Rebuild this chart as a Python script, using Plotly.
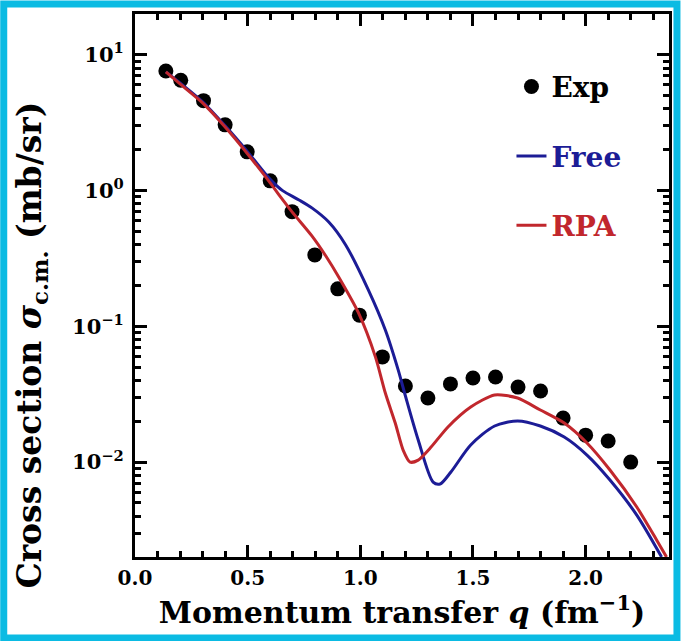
import numpy as np
import plotly.graph_objects as go

# Experimental data
exp_q = [0.137, 0.203, 0.304, 0.40, 0.498, 0.60, 0.697, 0.798, 0.90, 0.996, 1.098,
         1.20, 1.30, 1.40, 1.50, 1.60, 1.70, 1.80, 1.90, 2.00, 2.10, 2.20]
exp_sigma = [7.6, 6.5, 4.6, 3.05, 1.93, 1.18, 0.70, 0.336, 0.189, 0.121, 0.0596,
             0.0364, 0.0297, 0.0377, 0.0417, 0.0424, 0.0357, 0.0334, 0.0211, 0.0158, 0.0143, 0.0100]

# Free calculation
free_q = [0.137, 0.200, 0.300, 0.400, 0.500, 0.600, 0.655, 0.728, 0.785, 0.860, 0.935,
          1.036, 1.111, 1.168, 1.199, 1.257, 1.323, 1.354, 1.402, 1.490, 1.596, 1.698,
          1.799, 1.905, 2.006, 2.108, 2.227, 2.337]
free_sigma = [7.50, 6.22, 4.51, 3.00, 1.93, 1.21, 1.00, 0.853, 0.746, 0.587, 0.398,
              0.185, 0.094, 0.0478, 0.0312, 0.01456, 0.00713, 0.0069, 0.00845, 0.01337, 0.01845, 0.0201,
              0.01845, 0.0153, 0.01127, 0.00738, 0.00407, 0.0020]

# RPA calculation
rpa_q = [0.137, 0.200, 0.300, 0.400, 0.500, 0.600, 0.639, 0.697, 0.785, 0.847, 0.904,
         0.992, 1.067, 1.111, 1.155, 1.190, 1.221, 1.257, 1.314, 1.389, 1.490, 1.596,
         1.698, 1.799, 1.905, 2.006, 2.108, 2.227, 2.315, 2.359]
rpa_sigma = [7.50, 6.11, 4.43, 2.94, 1.86, 1.14, 0.929, 0.697, 0.464, 0.330, 0.231,
             0.1256, 0.0596, 0.0323, 0.0194, 0.01227, 0.0100, 0.01035, 0.0129, 0.01816, 0.02547, 0.0312,
             0.02965, 0.0242, 0.0194, 0.01384, 0.00875, 0.00467, 0.00267, 0.0020]

x_ticks = [0.0, 0.5, 1.0, 1.5, 2.0]
x_ticktext = ["0.0", "0.5", "1.0", "1.5", "2.0"]
y_ticks = [0.01, 0.1, 1, 10]
y_ticktext = ["10<sup>\u22122</sup>", "10<sup>\u22121</sup>", "10<sup>0</sup>", "10<sup>1</sup>"]

BLUE = "#1c1c96"
RED = "#c1272d"
FONT = "DejaVu Serif"

fig = go.Figure()
fig.add_trace(go.Scatter(
    x=exp_q, y=exp_sigma, mode="markers", name="Exp",
    marker=dict(color="black", size=15), legendgroup="a"))
fig.add_trace(go.Scatter(
    x=free_q, y=free_sigma, mode="lines", name="<span style='color:%s'>Free</span>" % BLUE,
    line=dict(color=BLUE, width=3, shape="spline", smoothing=0.8), legendgroup="b"))
fig.add_trace(go.Scatter(
    x=rpa_q, y=rpa_sigma, mode="lines", name="<span style='color:%s'>RPA</span>" % RED,
    line=dict(color=RED, width=3, shape="spline", smoothing=0.7), legendgroup="c"))

minor_y = [m * 10.0 ** e for e in range(-3, 2) for m in range(2, 10)]
minor_y = [v for v in minor_y if 0.002 <= v <= 20]

axis_common = dict(
    showline=True, linecolor="black", linewidth=3, mirror="allticks",
    ticks="inside", ticklen=12, tickwidth=2.5, tickcolor="black",
    showgrid=False, zeroline=False,
)

fig.update_xaxes(
    range=[0, 2.37], tickmode="array", tickvals=x_ticks, ticktext=x_ticktext,
    minor=dict(tickmode="linear", tick0=0, dtick=0.1, ticks="inside", ticklen=6,
               tickwidth=2.5, tickcolor="black"),
    title=dict(text="<b>Momentum transfer <i>q</i> (fm<sup>\u22121</sup>)</b>",
               font=dict(family=FONT, size=30, color="black"), standoff=4),
    tickfont=dict(family=FONT, size=20, color="black", weight="bold"),
    ticklabelstandoff=1,
    **axis_common)
fig.update_yaxes(
    type="log", range=[np.log10(0.002), np.log10(20)], tickmode="array",
    tickvals=y_ticks, ticktext=y_ticktext,
    minor=dict(tickmode="array", tickvals=minor_y, ticks="inside", ticklen=6,
               tickwidth=2.5, tickcolor="black"),
    tickfont=dict(family=FONT, size=21, color="black", weight="bold"),
    ticklabelstandoff=4,
    **axis_common)

# y-axis title placed like the reference (slightly below the axis centre)
fig.add_annotation(
    text="<b>Cross section <i>\u03c3</i><sub>c.m.</sub> (mb/sr)</b>",
    xref="paper", yref="paper", x=(30 - 135) / 537, y=(557 - 345) / 543,
    xanchor="center", yanchor="middle", textangle=-90, showarrow=False,
    font=dict(family=FONT, size=33, color="black"))

fig.update_layout(
    width=683, height=641,
    margin=dict(l=135, r=11, t=14, b=84),
    paper_bgcolor="white", plot_bgcolor="white",
    font=dict(family=FONT, color="black"),
    legend=dict(x=0.705, y=0.912, xanchor="left", yanchor="top",
                bgcolor="rgba(0,0,0,0)", tracegroupgap=30,
                font=dict(family=FONT, size=28, color="black", weight="bold")),
    showlegend=True,
)

# cyan frame around the picture
fig.add_shape(type="rect", xref="paper", yref="paper",
              x0=(3 - 135) / 537, x1=(680 - 135) / 537,
              y0=(557 - 638) / 543, y1=(557 - 4) / 543,
              line=dict(color="#0bbbe3", width=7), layer="above")

fig.write_html("out.html", config={"displayModeBar": False},
               post_script="document.body.style.margin='0';")
